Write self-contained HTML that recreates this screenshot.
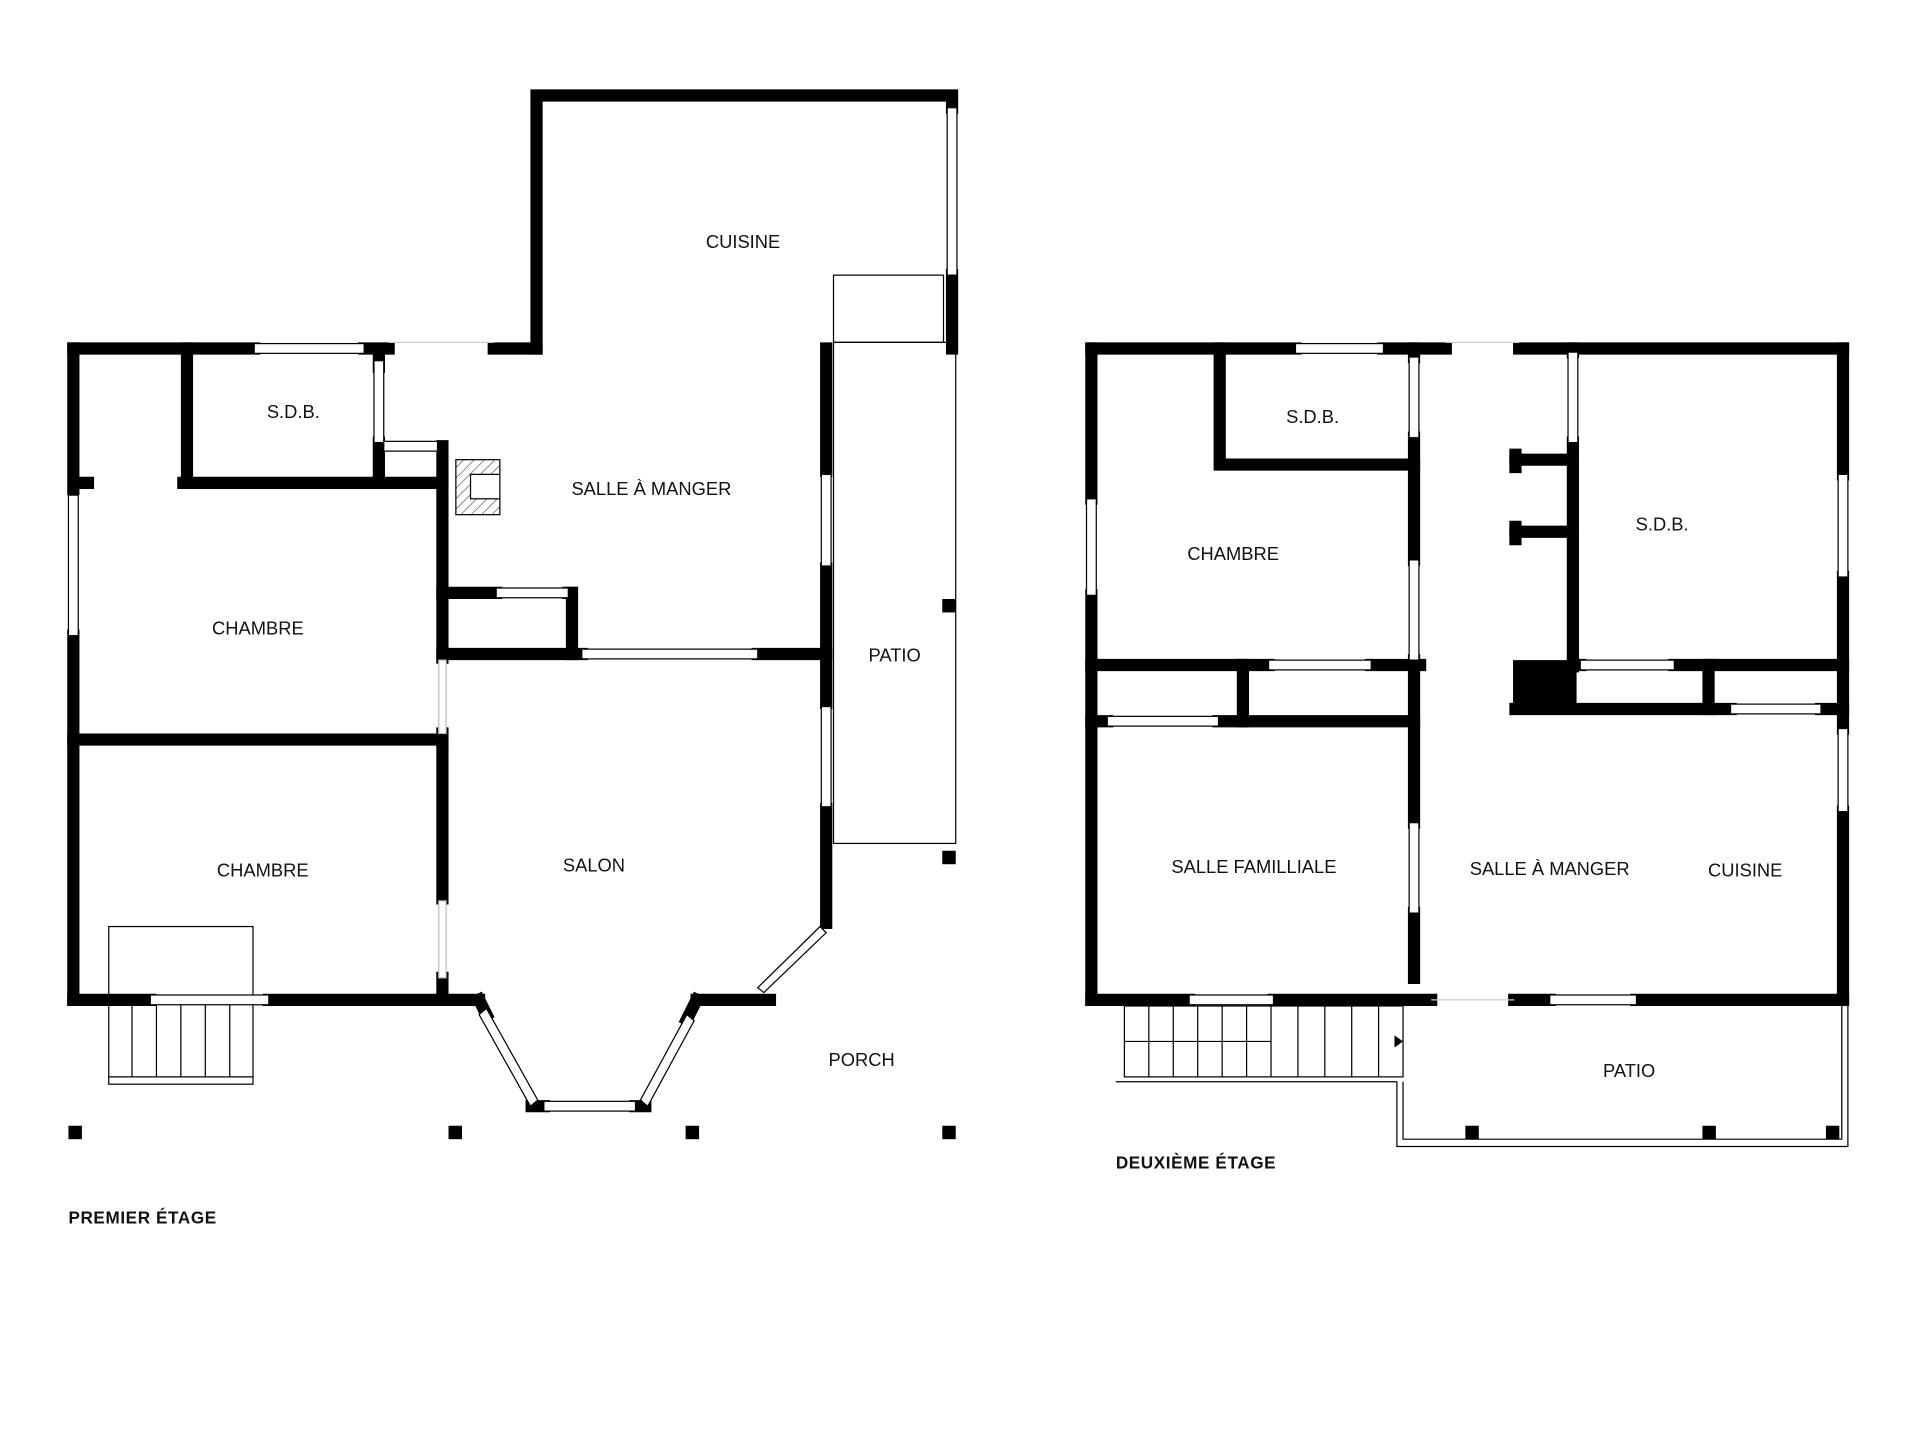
<!DOCTYPE html>
<html><head><meta charset="utf-8"><style>
html,body{margin:0;padding:0;background:#fff;}
svg{display:block}
text{font-family:"Liberation Sans",sans-serif;font-size:15px;fill:#111;text-anchor:middle}
.t{font-weight:bold;font-size:14px;text-anchor:start;letter-spacing:0.5px}
</style></head><body>
<svg width="1920" height="1440" viewBox="0 0 1571 1178" xmlns="http://www.w3.org/2000/svg">
<defs><pattern id="h" width="6" height="6" patternUnits="userSpaceOnUse" patternTransform="rotate(45)"><line x1="0" y1="0" x2="0" y2="6" stroke="#444" stroke-width="1"/></pattern></defs>
<rect width="1571" height="1178" fill="#fff"/>
<g fill="none" stroke="#000" stroke-width="1">
<rect x="682" y="280" width="100" height="410"/>
<rect x="682" y="225" width="90" height="55"/>
<rect x="89" y="758" width="118" height="60"/>
<rect x="89" y="818" width="118" height="69"/>
<line x1="89" y1="881" x2="207" y2="881"/>
<line x1="108" y1="818" x2="108" y2="881"/><line x1="128" y1="818" x2="128" y2="881"/><line x1="148" y1="818" x2="148" y2="881"/><line x1="168" y1="818" x2="168" y2="881"/><line x1="188" y1="818" x2="188" y2="881"/>
<rect x="373" y="376" width="36" height="45" fill="url(#h)"/>
<rect x="385" y="388" width="24" height="20" fill="#fff"/>
<polyline points="913,885 1143,885 1143,938 1512,938 1512,823"/>
<polyline points="1148,885 1148,932 1507,932 1507,823"/>
<rect x="920" y="823" width="228" height="58"/>
<line x1="1040" y1="823" x2="1040" y2="881"/>
<line x1="920" y1="852" x2="1040" y2="852"/>
<line x1="940" y1="823" x2="940" y2="881"/><line x1="960" y1="823" x2="960" y2="881"/><line x1="980" y1="823" x2="980" y2="881"/><line x1="1000" y1="823" x2="1000" y2="881"/><line x1="1020" y1="823" x2="1020" y2="881"/>
<line x1="1062" y1="823" x2="1062" y2="881"/><line x1="1084" y1="823" x2="1084" y2="881"/><line x1="1106" y1="823" x2="1106" y2="881"/><line x1="1128" y1="823" x2="1128" y2="881"/>
</g>
<polygon points="1141,847 1148,852 1141,857" fill="#000"/>
<g stroke="#000" stroke-width="10" fill="none" stroke-linecap="square">
<line x1="60" y1="285" x2="208" y2="285"/><line x1="298" y1="285" x2="318" y2="285"/>
<line x1="404" y1="285" x2="439" y2="285"/>
<polyline points="439,285 439,78 779,78 779,88"/>
<line x1="779" y1="225" x2="779" y2="285"/>
<line x1="60" y1="285" x2="60" y2="400"/><line x1="60" y1="520" x2="60" y2="818"/>
<line x1="676" y1="285" x2="676" y2="385"/><line x1="676" y1="465" x2="676" y2="575"/><line x1="676" y1="662" x2="676" y2="755"/>
<line x1="630" y1="818" x2="570" y2="818"/>
<line x1="570" y1="818" x2="562" y2="834"/>
<line x1="435" y1="905" x2="445" y2="905"/><line x1="520" y1="905" x2="528" y2="905"/>
<line x1="392" y1="818" x2="398" y2="830"/>
<line x1="392" y1="818" x2="220" y2="818"/><line x1="123" y1="818" x2="60" y2="818"/>
<line x1="362" y1="365" x2="362" y2="538"/><line x1="362" y1="600" x2="362" y2="735"/><line x1="362" y1="800" x2="362" y2="818"/>
<line x1="60" y1="605" x2="362" y2="605"/>
<line x1="150" y1="395" x2="362" y2="395"/>
<line x1="153" y1="285" x2="153" y2="395"/>
<line x1="310" y1="290" x2="310" y2="300"/><line x1="310" y1="362" x2="310" y2="395"/>
<line x1="362" y1="485" x2="406" y2="485"/><line x1="465" y1="485" x2="468" y2="485"/>
<line x1="468" y1="485" x2="468" y2="535"/>
<line x1="362" y1="535" x2="476" y2="535"/><line x1="620" y1="535" x2="676" y2="535"/>
<line x1="65" y1="395" x2="72" y2="395"/>
<line x1="893" y1="285" x2="1060" y2="285"/><line x1="1132" y1="285" x2="1183" y2="285"/><line x1="1243" y1="285" x2="1508" y2="285"/>
<line x1="893" y1="285" x2="893" y2="408"/><line x1="893" y1="487" x2="893" y2="818"/>
<line x1="1508" y1="285" x2="1508" y2="388"/><line x1="1508" y1="472" x2="1508" y2="596"/><line x1="1508" y1="664" x2="1508" y2="818"/>
<line x1="893" y1="818" x2="973" y2="818"/><line x1="1042" y1="818" x2="1171" y2="818"/><line x1="1239" y1="818" x2="1268" y2="818"/><line x1="1339" y1="818" x2="1508" y2="818"/>
<polyline points="998,285 998,380 1157,380"/>
<line x1="1157" y1="285" x2="1157" y2="292"/><line x1="1157" y1="358" x2="1157" y2="458"/><line x1="1157" y1="540" x2="1157" y2="673"/><line x1="1157" y1="747" x2="1157" y2="800"/>
<line x1="893" y1="544" x2="1038" y2="544"/><line x1="1122" y1="544" x2="1162" y2="544"/>
<line x1="1017" y1="544" x2="1017" y2="590"/>
<line x1="893" y1="590" x2="906" y2="590"/><line x1="997" y1="590" x2="1157" y2="590"/>
<line x1="1287" y1="285" x2="1287" y2="288"/><line x1="1287" y1="362" x2="1287" y2="545"/>
<line x1="1240" y1="376" x2="1287" y2="376"/><line x1="1240" y1="435" x2="1287" y2="435"/>
<line x1="1240" y1="372" x2="1240" y2="382"/><line x1="1240" y1="431" x2="1240" y2="441"/>
<line x1="1287" y1="544" x2="1293" y2="544"/><line x1="1370" y1="544" x2="1508" y2="544"/>
<line x1="1398" y1="544" x2="1398" y2="580"/>
<line x1="1240" y1="580" x2="1416" y2="580"/><line x1="1490" y1="580" x2="1508" y2="580"/>
</g>
<g fill="#000">
<rect x="1238" y="540" width="52" height="43"/>
<rect x="771" y="490" width="11" height="11"/><rect x="771" y="696" width="11" height="11"/>
<rect x="56" y="921" width="11" height="11"/><rect x="367" y="921" width="11" height="11"/><rect x="561" y="921" width="11" height="11"/><rect x="771" y="921" width="11" height="11"/>
<rect x="1199" y="921" width="11" height="11"/><rect x="1393" y="921" width="11" height="11"/><rect x="1494" y="921" width="11" height="11"/>
</g>
<g fill="#fff" stroke="#000" stroke-width="1">
<rect x="775" y="88" width="8" height="137"/>
<rect x="208" y="281" width="90" height="8"/>
<rect x="56" y="405" width="8" height="115"/>
<rect x="672" y="388" width="8" height="75"/><rect x="672" y="578" width="8" height="82"/>
<rect x="123" y="814" width="97" height="8"/>
<rect x="445" y="901" width="75" height="8"/>
<rect x="306" y="295" width="8" height="67"/>
<rect x="314" y="361" width="44" height="8"/>
<rect x="476" y="531" width="144" height="8"/>
<rect x="406" y="481" width="59" height="8"/>
<rect x="359" y="540" width="6" height="60" stroke="#bbb"/>
<rect x="359" y="737" width="6" height="63" stroke="#bbb"/>
<polygon points="392,830 398,825 440,900 434,905"/>
<polygon points="562,830 568,835 530,905 524,900"/>
<polygon points="625,812 620,808 671,758 676,763"/>
<rect x="1060" y="281" width="72" height="8"/>
<rect x="889" y="408" width="8" height="79"/>
<rect x="1504" y="388" width="8" height="84"/><rect x="1504" y="596" width="8" height="68"/>
<rect x="973" y="814" width="69" height="8"/><rect x="1268" y="814" width="71" height="8"/>
<rect x="1153" y="292" width="8" height="66"/><rect x="1153" y="458" width="8" height="82"/><rect x="1153" y="673" width="8" height="74"/>
<rect x="1038" y="540" width="84" height="8"/><rect x="906" y="586" width="91" height="8"/>
<rect x="1283" y="288" width="8" height="74"/>
<rect x="1293" y="540" width="77" height="8"/><rect x="1416" y="576" width="74" height="8"/>
</g>
<g stroke="#ccc" stroke-width="1">
<line x1="318" y1="280" x2="404" y2="280"/><line x1="1183" y1="280" x2="1243" y2="280"/>
<line x1="1171" y1="818" x2="1239" y2="818"/>
</g>
<text x="608" y="203">CUISINE</text>
<text x="240" y="342">S.D.B.</text>
<text x="533" y="405">SALLE À MANGER</text>
<text x="211" y="519">CHAMBRE</text>
<text x="732" y="541">PATIO</text>
<text x="215" y="717">CHAMBRE</text>
<text x="486" y="713">SALON</text>
<text x="705" y="872">PORCH</text>
<text x="1074" y="346">S.D.B.</text>
<text x="1009" y="458">CHAMBRE</text>
<text x="1360" y="434">S.D.B.</text>
<text x="1026" y="714">SALLE FAMILLIALE</text>
<text x="1268" y="716">SALLE À MANGER</text>
<text x="1428" y="717">CUISINE</text>
<text x="1333" y="881">PATIO</text>
<text class="t" x="913" y="956">DEUXIÈME ÉTAGE</text>
<text class="t" x="56" y="1001">PREMIER ÉTAGE</text>
</svg>
</body></html>
